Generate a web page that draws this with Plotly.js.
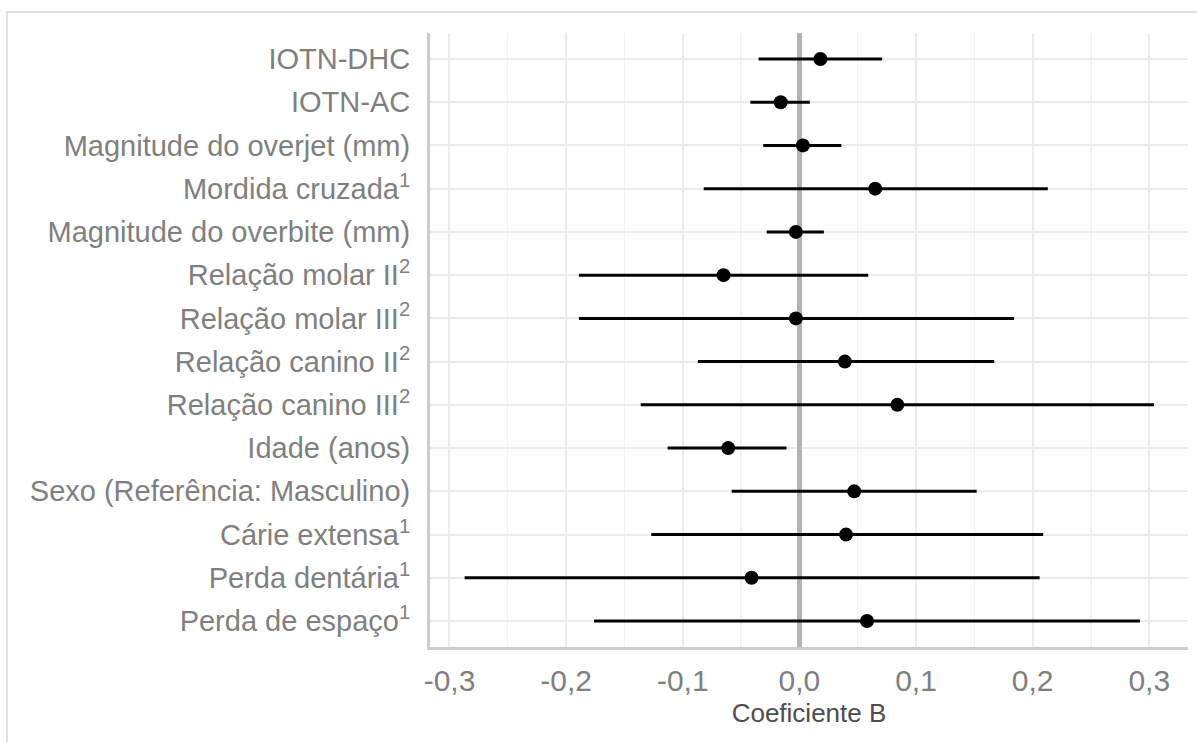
<!DOCTYPE html>
<html>
<head>
<meta charset="utf-8">
<script src="https://cdn.plot.ly/plotly-3.0.1.min.js"></script>
<style>html,body{margin:0;padding:0;background:#fff;}#chart{width:1197px;height:742px;}</style>
</head>
<body>
<div id="chart"></div>
<script>
const categories = [
  "IOTN-DHC",
  "IOTN-AC",
  "Magnitude do overjet (mm)",
  "Mordida cruzada<sup>1</sup>",
  "Magnitude do overbite (mm)",
  "Relação molar II<sup>2</sup>",
  "Relação molar III<sup>2</sup>",
  "Relação canino II<sup>2</sup>",
  "Relação canino III<sup>2</sup>",
  "Idade (anos)",
  "Sexo (Referência: Masculino)",
  "Cárie extensa<sup>1</sup>",
  "Perda dentária<sup>1</sup>",
  "Perda de espaço<sup>1</sup>"
];
const estimate = [0.018, -0.016, 0.003, 0.065, -0.003, -0.065, -0.003, 0.039, 0.084, -0.061, 0.047, 0.040, -0.041, 0.058];
const lower    = [-0.035, -0.042, -0.031, -0.082, -0.028, -0.189, -0.189, -0.087, -0.136, -0.113, -0.058, -0.127, -0.287, -0.176];
const upper    = [0.071, 0.009, 0.036, 0.213, 0.021, 0.059, 0.184, 0.167, 0.304, -0.011, 0.152, 0.209, 0.206, 0.292];
const xTickVals = [-0.3, -0.2, -0.1, 0.0, 0.1, 0.2, 0.3];
const xTickText = ["-0,3", "-0,2", "-0,1", "0,0", "0,1", "0,2", "0,3"];

const W = 1197, H = 742;
const M = {l: 430, r: 9, t: 33, b: 95};
const pw = W - M.l - M.r, ph = H - M.t - M.b;
const px2x = p => (p - M.l) / pw;
const py2y = p => (H - M.b - p) / ph;

const trace = {
  type: 'scatter',
  mode: 'markers',
  x: estimate,
  y: categories,
  marker: {color: '#000000', size: 14},
  error_x: {
    type: 'data',
    symmetric: false,
    array: upper.map((u, i) => u - estimate[i]),
    arrayminus: lower.map((l, i) => estimate[i] - l),
    color: '#000000',
    thickness: 3,
    width: 0
  },
  hoverinfo: 'x+y',
  showlegend: false
};

const layout = {
  width: W, height: H,
  margin: M,
  paper_bgcolor: '#ffffff',
  plot_bgcolor: '#ffffff',
  font: {family: 'Liberation Sans, Arial, sans-serif', color: '#7f7f7f', size: 29},
  xaxis: {
    range: [-0.3167, 0.3332],
    tickvals: xTickVals,
    ticktext: xTickText,
    ticks: 'outside', ticklen: 5, tickcolor: 'rgba(0,0,0,0)',
    tickfont: {size: 30, color: '#7f7f7f'},
    showgrid: true, gridcolor: '#ebebeb', gridwidth: 2,
    minor: {dtick: 0.05, tick0: 0, showgrid: true, gridcolor: '#f2f2f2', gridwidth: 1.2},
    zeroline: true, zerolinecolor: '#b3b3b3', zerolinewidth: 5,
    showline: true, linecolor: '#cccccc', linewidth: 3,
    title: {text: 'Coeficiente B', font: {size: 26, color: '#4d4d4d'}, standoff: 8},
    fixedrange: true
  },
  yaxis: {
    type: 'category',
    categoryorder: 'array', categoryarray: categories,
    range: [13.6, -0.6],
    ticks: 'outside', ticklen: 11, tickcolor: 'rgba(0,0,0,0)',
    tickfont: {size: 29, color: '#7f7f7f'},
    showgrid: true, gridcolor: '#ebebeb', gridwidth: 2,
    showline: true, linecolor: '#cccccc', linewidth: 3,
    fixedrange: true
  },
  shapes: [{
    type: 'rect', xref: 'paper', yref: 'paper',
    x0: px2x(7), x1: px2x(1215), y0: py2y(760), y1: py2y(12),
    line: {color: '#d9d9d9', width: 1.5}, fillcolor: 'rgba(0,0,0,0)', layer: 'below'
  }]
};

Plotly.newPlot('chart', [trace], layout, {displayModeBar: false, staticPlot: true});
</script>
</body>
</html>
